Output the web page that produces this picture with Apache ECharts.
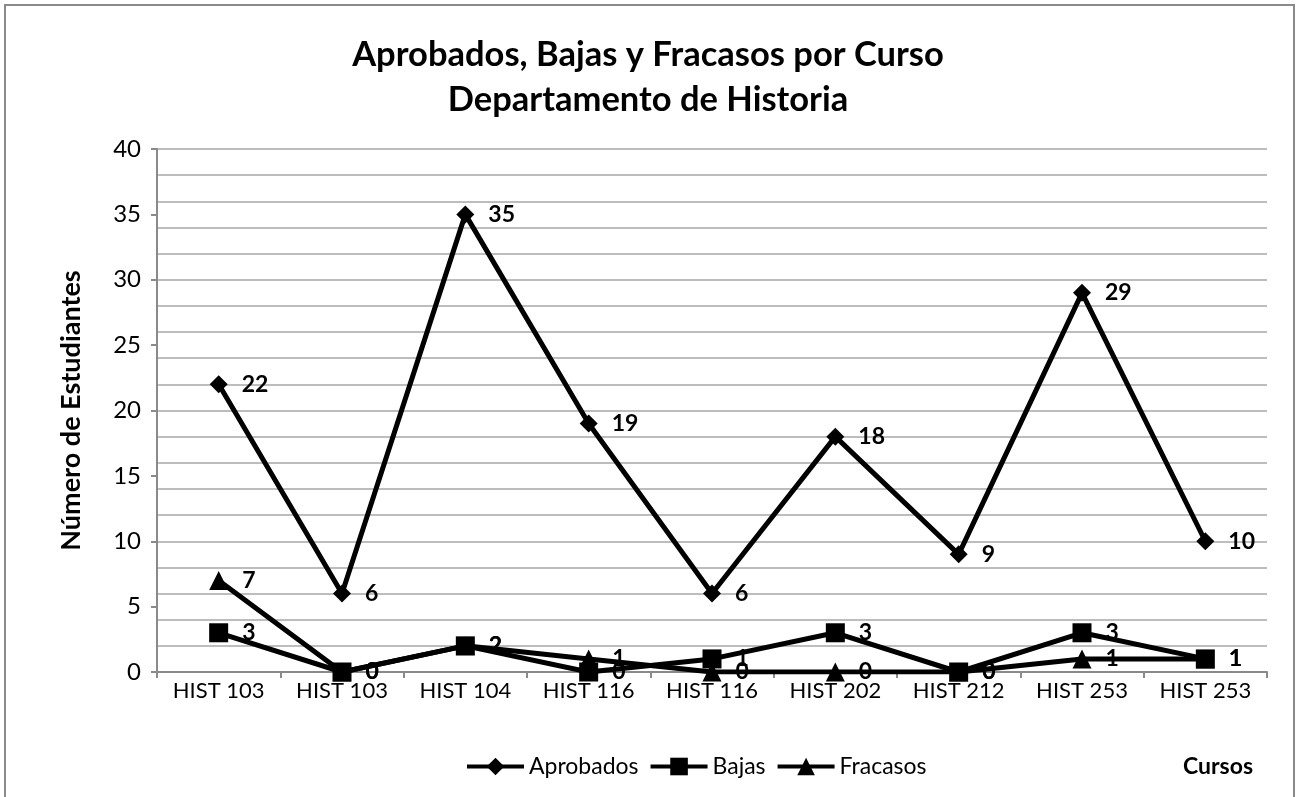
<!DOCTYPE html>
<html>
<head>
<meta charset="utf-8">
<script src="https://cdn.jsdelivr.net/npm/echarts@6/dist/echarts.min.js"></script>
<style>
  html, body { margin: 0; padding: 0; background: #fff; }
  #chart { width: 1296px; height: 797px; }
</style>
</head>
<body>
<div id="chart"></div>
<script>
// Course list and per-course student counts
const cursos = ['HIST 103', 'HIST 103', 'HIST 104', 'HIST 116', 'HIST 116', 'HIST 202', 'HIST 212', 'HIST 253', 'HIST 253'];
const aprobados = [22, 6, 35, 19, 6, 18, 9, 29, 10];
const bajas = [3, 0, 2, 0, 1, 3, 0, 3, 1];
const fracasos = [7, 0, 2, 1, 0, 0, 0, 1, 1];

const FONT = 'Lato, "Open Sans", sans-serif';

function serie(name, data, symbol, size) {
  return {
    name: name,
    type: 'line',
    data: data,
    yAxisIndex: 1,
    symbol: symbol,
    symbolSize: size,
    showAllSymbol: true,
    lineStyle: { color: '#000', width: 5 },
    itemStyle: { color: '#000' },
    label: {
      show: true,
      position: 'right',
      distance: 14,
      color: '#000',
      fontFamily: FONT,
      fontWeight: 'bold',
      fontSize: 23
    },
    emphasis: { disabled: true },
    animation: false
  };
}

const chart = echarts.init(document.getElementById('chart'));
chart.setOption({
  backgroundColor: '#fff',
  animation: false,
  title: {
    text: 'Aprobados, Bajas y Fracasos por Curso\nDepartamento de Historia',
    left: 'center',
    top: 27,
    textStyle: { fontFamily: FONT, fontWeight: 'bold', fontSize: 34.5, lineHeight: 45, color: '#000' }
  },
  graphic: [{
    type: 'rect',
    shape: { x: 5, y: 5, width: 1289, height: 800 },
    style: { fill: 'none', stroke: '#8a8a8a', lineWidth: 2 },
    silent: true
  }, {
    type: 'text',
    left: 1183,
    top: 755,
    style: { text: 'Cursos', fontFamily: FONT, fontWeight: 'bold', fontSize: 23, fill: '#000' }
  }],
  legend: {
    top: 750,
    left: 460,
    itemWidth: 57,
    itemHeight: 22,
    itemGap: 10,
    lineStyle: { width: 4, color: '#000' },
    textStyle: { fontFamily: FONT, fontSize: 23, color: '#000' },
    data: ['Aprobados', 'Bajas', 'Fracasos']
  },
  grid: { left: 157, right: 29, top: 149, bottom: 125 },
  xAxis: {
    type: 'category',
    data: cursos,
    boundaryGap: true,
    axisLine: { lineStyle: { color: '#8a8a8a', width: 2 } },
    axisTick: { show: true, length: 6, lineStyle: { color: '#8a8a8a', width: 2 } },
    axisLabel: { color: '#000', fontFamily: FONT, fontSize: 22, margin: 8, interval: 0 }
  },
  yAxis: [{
    // gridlines every 2 students
    type: 'value', min: 0, max: 40, interval: 2,
    axisLine: { show: false }, axisTick: { show: false }, axisLabel: { show: false },
    splitLine: { show: true, lineStyle: { color: '#bdbdbd', width: 2 } }
  }, {
    // labelled scale every 5 students
    type: 'value', min: 0, max: 40, interval: 5, position: 'left',
    name: 'Número de Estudiantes',
    nameLocation: 'middle',
    nameGap: 72,
    nameRotate: 90,
    nameTextStyle: { fontFamily: FONT, fontWeight: 'bold', fontSize: 27, color: '#000' },
    axisLine: { show: true, lineStyle: { color: '#8a8a8a', width: 2 } },
    axisTick: { show: true, length: 6, lineStyle: { color: '#8a8a8a', width: 2 } },
    axisLabel: { color: '#000', fontFamily: FONT, fontSize: 24, margin: 16 },
    splitLine: { show: false }
  }],
  series: [
    serie('Aprobados', aprobados, 'diamond', 18),
    serie('Bajas', bajas, 'rect', 19),
    serie('Fracasos', fracasos, 'triangle', 19)
  ]
});
</script>
</body>
</html>
